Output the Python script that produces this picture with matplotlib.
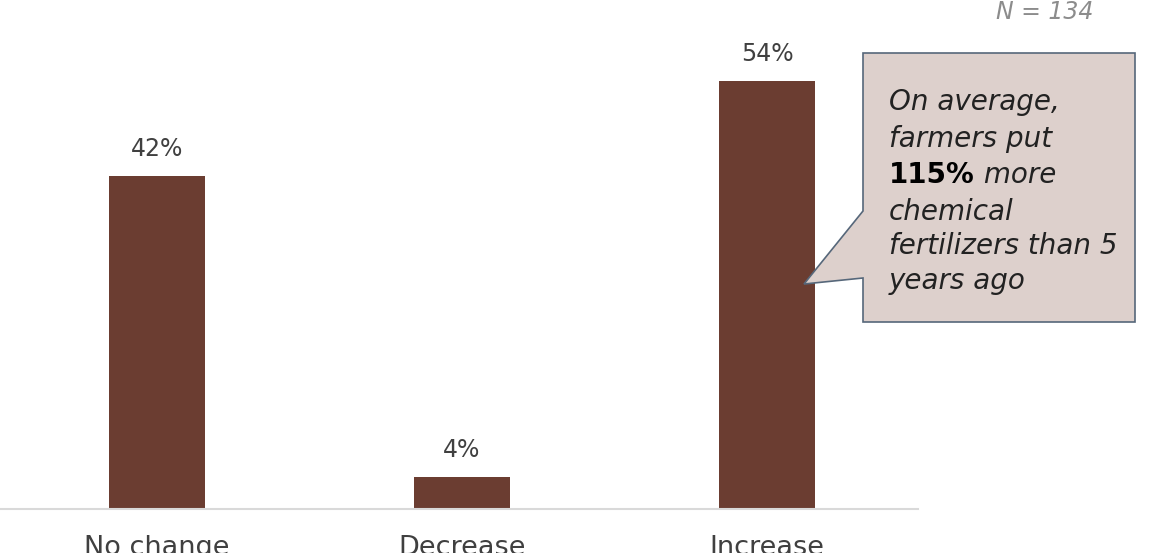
import matplotlib.pyplot as plt
from matplotlib.patches import Polygon

categories = ['No change', 'Decrease', 'Increase']
values = [42, 4, 54]
labels = ['42%', '4%', '54%']

note_lines = ['On average,', 'farmers put', None, 'chemical', 'fertilizers than 5', 'years ago']
n_text = 'N = 134'

W, H = 1158, 553
plt.rcParams['font.family'] = ['DejaVu Sans']

fig = plt.figure(figsize=(W / 100, H / 100), dpi=100)
ax = fig.add_axes([0, 44 / H, 918 / W, 1 - 44 / H])

x = range(len(categories))
ax.bar(x, values, width=0.315, color='#6B3D31')
for i, v in enumerate(values):
    ax.text(i, v + 1.9, labels[i], ha='center', va='bottom', fontsize=17, color='#404040')

ax.set_xlim(-0.515, 2.495)
ax.set_ylim(0, 64.2)
ax.set_xticks(list(x))
ax.set_xticklabels(categories, fontsize=19.5, color='#404040')
ax.tick_params(axis='x', length=0, pad=19)
ax.set_yticks([])
for s in ['top', 'right', 'left']:
    ax.spines[s].set_visible(False)
ax.spines['bottom'].set_color('#D9D9D9')
ax.spines['bottom'].set_linewidth(1.5)


def fp(px, py):
    return (px / W, 1 - py / H)


# callout box
pts = [(863, 53), (1135, 53), (1135, 322), (863, 322), (863, 278), (804, 284), (863, 211)]
callout = Polygon([fp(*p) for p in pts], closed=True, transform=fig.transFigure,
                  facecolor='#DDD0CC', edgecolor='#56677A', linewidth=1.2)
fig.add_artist(callout)

line_y = [102, 139, 175, 212, 246, 281]
for ly, txt in zip(line_y, note_lines):
    if txt is not None:
        fig.text(*fp(889, ly), txt, fontsize=20, style='italic', color='#222222', va='center')

t1 = fig.text(*fp(889, line_y[2]), '115%', fontsize=20, fontweight='bold', color='black', va='center')
fig.canvas.draw()
bb = t1.get_window_extent()
fig.text(bb.x1 / W, 1 - line_y[2] / H, ' more', fontsize=20, style='italic', color='#222222', va='center')

fig.text(*fp(1093, 12), n_text, fontsize=17, style='italic', color='#8C8C8C', ha='right', va='center')

fig.savefig('out.png', dpi=100)
